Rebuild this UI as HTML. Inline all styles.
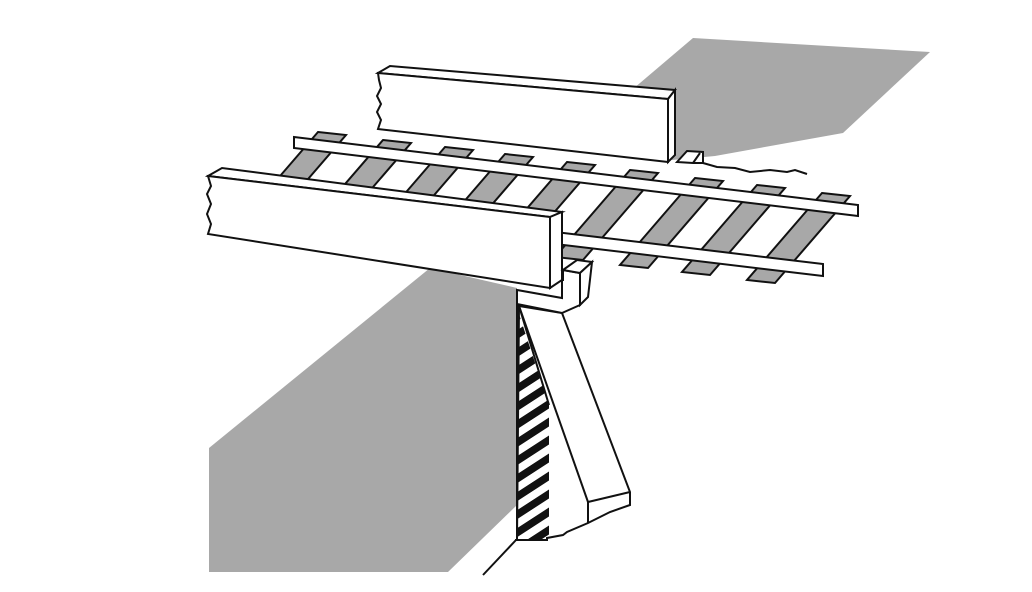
<!DOCTYPE html>
<html><head><meta charset="utf-8"><style>html,body{margin:0;padding:0;background:#fff}svg{display:block}</style></head>
<body>
<svg width="1032" height="592" viewBox="0 0 1032 592" xmlns="http://www.w3.org/2000/svg">
<defs>
<pattern id="hat" patternUnits="userSpaceOnUse" width="200" height="18" patternTransform="skewY(-33)">
<rect x="0" y="0" width="200" height="9" fill="#111"/>
</pattern>
<clipPath id="tri"><polygon points="517,308 549,405 549,540 517,540"/></clipPath>
</defs>
<g stroke="#111" stroke-width="2" stroke-linejoin="miter" fill="#fff">
<polygon points="693,38 930,52 843,133 715,156 672,160 620,100" fill="#a8a8a8" stroke="none"/>
<polygon points="430,268 517,288 517,505 448,572 209,572 209,448" fill="#a8a8a8" stroke="none"/>
<line x1="516" y1="540" x2="483" y2="575"/>
<path d="M378,73 L390,66 L675,90 L668,99 Z"/>
<path d="M675,90 L675,155 L668,162 L668,99 Z"/>
<path d="M378,73 L668,99 L668,162 L378,129 L381,120 L377,112 L381,104 L377,96 L381,88 L379,80 Z"/>
<path d="M677,162 L687,151 L703,152 L703,163 L693,163 Z"/>
<line x1="693" y1="163" x2="700" y2="153"/>
<polyline fill="none" points="703,163 717,167 735,168 750,172 770,170 787,172 795,170 807,174"/>
<g fill="#a8a8a8">
<polygon points="318,132 346,135 271,222 243,219"/>
<polygon points="383,140 411,143 336,230 308,227"/>
<polygon points="445,147 473,150 398,237 370,234"/>
<polygon points="505,154 533,157 458,244 430,241"/>
<polygon points="567,162 595,165 520,252 492,249"/>
<polygon points="630,170 658,173 583,260 555,257"/>
<polygon points="695,178 723,181 648,268 620,265"/>
<polygon points="757,185 785,188 710,275 682,272"/>
<polygon points="822,193 850,196 775,283 747,280"/>
</g>
<polygon points="294,137 858,205 858,216 294,148"/>
<polygon points="530,229 823,264 823,276 530,241"/>
<path d="M208,176 L222,168 L562,212 L550,217 Z"/>
<path d="M550,217 L562,212 L562,280 L550,288 Z"/>
<path d="M208,176 L550,217 L550,288 L208,234 L211,224 L207,214 L211,204 L207,194 L211,186 Z"/>
<path d="M519,306 L562,313 L630,492 L630,505 L610,512 L588,523 L567,532 L563,535 L547,538 L547,540 L517,540 Z"/>
<line x1="519" y1="306" x2="588" y2="502"/>
<line x1="588" y1="502" x2="630" y2="492"/>
<line x1="588" y1="502" x2="588" y2="523"/>
<path d="M562,280 L562,298 L517,290 L517,304 L562,313 L580,305 L580,273 L563,270 L563,280 Z"/>
<line x1="517" y1="290" x2="517" y2="304"/>
<path d="M563,270 L577,260 L592,262 L580,273 Z"/>
<path d="M580,273 L592,262 L588,297 L580,305 Z"/>
<rect x="517" y="300" width="40" height="245" fill="url(#hat)" stroke="none" clip-path="url(#tri)"/>
<line x1="517" y1="304" x2="517" y2="540"/>
<line x1="519" y1="306" x2="549" y2="405"/>
<line x1="515" y1="540" x2="548" y2="540"/>
</g>
</svg>
</body></html>
